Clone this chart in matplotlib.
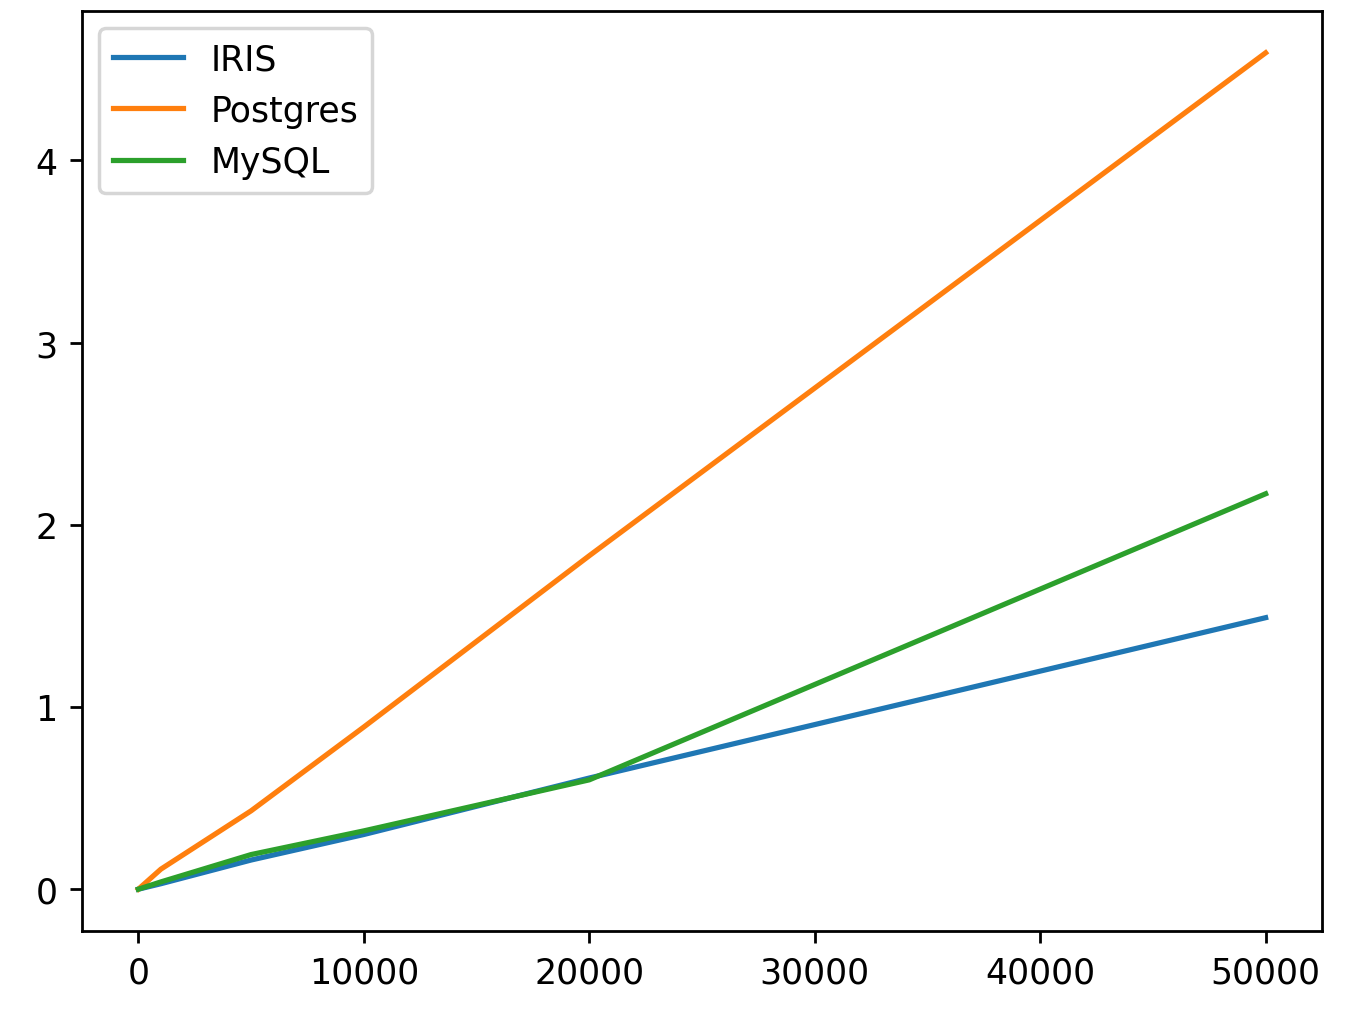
import matplotlib
matplotlib.use("Agg")
import matplotlib.pyplot as plt

x = [0, 1000, 5000, 10000, 20000, 50000]
iris = [0.0, 0.03, 0.16, 0.30, 0.61, 1.49]
postgres = [0.0, 0.11, 0.43, 0.89, 1.83, 4.59]
mysql = [0.0, 0.04, 0.19, 0.32, 0.60, 2.17]

W, H, DPI = 1361, 1013, 250
fig = plt.figure(figsize=(W / DPI, H / DPI), dpi=DPI)
ax = fig.add_axes([82 / W, (H - 932) / H, (1322 - 82) / W, (932 - 12) / H])
ax.plot(x, iris, label="IRIS")
ax.plot(x, postgres, label="Postgres")
ax.plot(x, mysql, label="MySQL")
ax.legend(loc="upper left")
fig.savefig("out.png", dpi=DPI)
